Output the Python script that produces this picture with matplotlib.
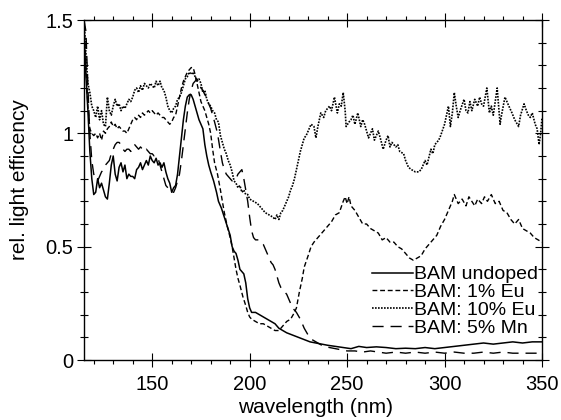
import matplotlib
matplotlib.use("Agg")
import matplotlib.pyplot as plt
from matplotlib.ticker import MultipleLocator, FixedLocator

plt.rcParams['font.family'] = ['Liberation Sans', 'DejaVu Sans']

# ---- data ----
undoped_x = [115, 116, 117, 118, 119, 120, 121, 122, 123, 124, 125, 126, 127, 128, 129, 130,
             131, 132, 133, 134, 135, 136, 137, 138, 139, 140, 141, 142, 143, 144, 145, 146,
             147, 148, 149, 150, 151, 152, 153, 154, 155, 156, 157, 158, 159, 160, 161, 162,
             163, 164, 165, 166, 167, 168, 169, 170, 171, 172, 173, 174, 175, 176, 177, 178,
             179, 180, 181.5, 183, 184, 185.5, 187, 188.5, 190, 191, 192, 193, 194, 195, 196,
             197, 198, 199, 200, 201, 203, 205, 207, 209, 211, 213, 215, 217, 219, 222, 225,
             228, 231, 234, 237, 240, 244, 248, 252, 256, 260, 265, 270, 275, 280, 285, 290,
             295, 300, 305, 310, 315, 320, 325, 330, 335, 340, 345, 350]
undoped_y = [1.45, 1.25, 1.10, 0.92, 0.80, 0.73, 0.74, 0.80, 0.76, 0.78, 0.75, 0.72, 0.71, 0.78,
             0.86, 0.90, 0.82, 0.79, 0.85, 0.87, 0.83, 0.86, 0.80, 0.82, 0.81, 0.81, 0.80, 0.84,
             0.85, 0.87, 0.84, 0.86, 0.88, 0.86, 0.90, 0.88, 0.87, 0.89, 0.86, 0.87, 0.85, 0.87,
             0.83, 0.80, 0.78, 0.74, 0.76, 0.77, 0.82, 0.90, 0.98, 1.06, 1.12, 1.16, 1.17, 1.17,
             1.15, 1.12, 1.09, 1.06, 1.04, 1.02, 0.95, 0.90, 0.86, 0.83, 0.79, 0.74, 0.70, 0.67,
             0.63, 0.59, 0.55, 0.50, 0.48, 0.47, 0.44, 0.40, 0.39, 0.38, 0.34, 0.27, 0.23, 0.21,
             0.21, 0.20, 0.19, 0.18, 0.17, 0.16, 0.14, 0.13, 0.12, 0.11, 0.10, 0.09, 0.08, 0.075,
             0.07, 0.065, 0.06, 0.055, 0.05, 0.06, 0.055, 0.058, 0.055, 0.05, 0.052, 0.05, 0.055,
             0.05, 0.055, 0.06, 0.065, 0.07, 0.075, 0.07, 0.075, 0.08, 0.075, 0.08, 0.08]

eu1_x = [115, 116, 117, 118, 119, 120, 121, 122, 123, 124, 125, 126, 127, 128, 129, 130, 131,
         132, 133, 134, 135, 136, 137, 138, 139, 140, 141, 142, 143, 144, 145, 146, 147, 148,
         149, 150, 151, 152, 153, 154, 155, 156, 157, 158, 159, 160, 161, 162, 163, 164, 165,
         166, 167, 168, 169, 170, 171, 172, 173, 174, 175, 176, 177, 178, 179, 180, 181, 182,
         183.5, 185, 186, 187, 188.5, 190, 191, 192, 193, 194, 195, 196.5, 198, 199, 200, 201,
         203, 205, 207, 209, 211, 213, 215, 217, 219, 221, 223, 224, 225.5, 227, 228, 230,
         231.5, 233, 235, 237, 240, 242, 244, 246, 248, 249, 250, 251, 252, 254, 256, 258, 260,
         262, 264, 266, 268, 270, 272, 274, 276, 278, 280, 282, 284, 286, 288, 290, 292, 294,
         296, 298, 300, 302, 304, 305, 307, 309, 311, 312.5, 314, 315.5, 317, 319, 320.5, 322,
         324, 326, 328, 330, 332, 334, 336, 338, 340, 342, 344, 346, 348, 350]
eu1_y = [1.50, 1.30, 1.12, 1.02, 1.00, 0.99, 1.00, 0.98, 1.00, 0.97, 1.01, 1.00, 1.02, 1.03,
         1.05, 1.03, 1.04, 1.02, 1.03, 1.02, 1.01, 1.01, 1.00, 1.02, 1.04, 1.06, 1.07, 1.06,
         1.08, 1.07, 1.09, 1.08, 1.09, 1.10, 1.09, 1.10, 1.09, 1.08, 1.09, 1.08, 1.07, 1.07,
         1.06, 1.05, 1.04, 1.05, 1.07, 1.08, 1.12, 1.16, 1.20, 1.23, 1.25, 1.27, 1.28, 1.29,
         1.29, 1.26, 1.22, 1.18, 1.14, 1.12, 1.10, 1.07, 1.04, 1.00, 0.93, 0.87, 0.82, 0.75,
         0.70, 0.65, 0.59, 0.54, 0.50, 0.45, 0.40, 0.36, 0.33, 0.28, 0.24, 0.21, 0.19, 0.18,
         0.17, 0.16, 0.16, 0.15, 0.14, 0.13, 0.13, 0.15, 0.17, 0.18, 0.21, 0.23, 0.30, 0.36,
         0.41, 0.46, 0.50, 0.52, 0.54, 0.56, 0.59, 0.61, 0.64, 0.65, 0.70, 0.72, 0.69, 0.72,
         0.68, 0.66, 0.63, 0.60, 0.60, 0.58, 0.57, 0.56, 0.53, 0.54, 0.52, 0.52, 0.50, 0.49,
         0.47, 0.45, 0.44, 0.45, 0.46, 0.49, 0.51, 0.53, 0.55, 0.59, 0.62, 0.66, 0.70, 0.73,
         0.69, 0.71, 0.68, 0.72, 0.70, 0.68, 0.71, 0.69, 0.72, 0.70, 0.73, 0.69, 0.70, 0.66,
         0.65, 0.62, 0.60, 0.62, 0.58, 0.57, 0.56, 0.54, 0.53, 0.52]

eu10_x = [115, 116, 117, 118, 119, 120, 121, 122, 123, 124, 125, 126, 127, 128, 129, 130, 131,
          132, 133, 134, 135, 136, 137, 138, 139, 140, 141, 142, 143, 144, 145, 146, 147, 148,
          149, 150, 151, 152, 153, 154, 155, 156, 157, 158, 159, 160, 161, 162, 163, 164, 165,
          166, 167, 168, 169, 170, 171, 172, 173, 174, 175, 176, 177, 178, 179, 180, 181, 182,
          183, 184, 185, 186, 187, 188, 189, 190, 191, 192, 193, 194, 195, 196, 197, 198, 199,
          200, 202, 204, 206, 208, 210, 212, 213, 214, 215, 216, 217, 218, 219, 220, 221, 222,
          223, 224, 225, 226, 227, 228, 229, 230, 231.5, 233, 234, 235, 236.5, 238, 239, 241,
          242, 243.5, 245, 246, 247, 248, 249, 249.5, 251, 252, 253, 254, 255.5, 257, 258, 259,
          261, 262, 263, 264, 266, 267, 268.5, 270, 271, 272, 273, 275, 276, 277, 279, 280,
          281.5, 283, 285, 286.7, 288, 290, 291, 293, 294, 295, 297, 298, 300, 301, 302, 303,
          304, 305, 306, 307, 308, 310, 311, 312, 313, 314, 315.5, 317, 318, 319, 320, 321.7,
          323, 324, 325, 327, 328.5, 329, 331, 332, 333, 334.6, 336, 338, 339, 340.8, 342, 343,
          344, 345, 346.5, 347.5, 348.5, 349.3, 350]
eu10_y = [1.50, 1.35, 1.22, 1.18, 1.12, 1.10, 1.07, 1.12, 1.06, 1.10, 1.04, 1.03, 1.16, 1.10,
          1.08, 1.12, 1.15, 1.12, 1.13, 1.10, 1.12, 1.11, 1.13, 1.15, 1.14, 1.16, 1.19, 1.20,
          1.18, 1.21, 1.19, 1.22, 1.21, 1.20, 1.22, 1.21, 1.20, 1.23, 1.21, 1.23, 1.20, 1.19,
          1.16, 1.12, 1.10, 1.09, 1.11, 1.12, 1.15, 1.16, 1.18, 1.21, 1.24, 1.25, 1.27, 1.26,
          1.27, 1.25, 1.23, 1.24, 1.22, 1.18, 1.19, 1.15, 1.13, 1.12, 1.10, 1.09, 1.06, 1.05,
          0.99, 0.96, 0.93, 0.91, 0.88, 0.86, 0.83, 0.79, 0.78, 0.76, 0.77, 0.74, 0.75, 0.73,
          0.73, 0.71, 0.70, 0.69, 0.67, 0.65, 0.64, 0.63, 0.62, 0.64, 0.62, 0.65, 0.66, 0.68,
          0.70, 0.72, 0.75, 0.77, 0.80, 0.84, 0.88, 0.92, 0.95, 0.98, 0.99, 1.01, 1.04, 1.03,
          0.98, 1.03, 1.09, 1.07, 1.10, 1.12, 1.10, 1.16, 1.09, 1.13, 1.12, 1.18, 1.10, 1.03,
          1.05, 1.06, 1.08, 1.04, 1.09, 1.03, 1.06, 1.04, 0.98, 1.00, 1.02, 0.97, 1.01, 0.98,
          0.93, 0.97, 0.99, 0.94, 0.96, 0.94, 0.95, 0.92, 0.91, 0.88, 0.85, 0.84, 0.83, 0.83,
          0.84, 0.88, 0.86, 0.93, 0.91, 0.95, 0.97, 0.99, 1.04, 1.08, 1.12, 1.03, 1.09, 1.18,
          1.12, 1.07, 1.10, 1.15, 1.10, 1.09, 1.14, 1.10, 1.15, 1.12, 1.16, 1.13, 1.12, 1.20,
          1.09, 1.12, 1.08, 1.20, 1.04, 1.07, 1.16, 1.14, 1.12, 1.09, 1.06, 1.03, 1.08, 1.13,
          1.10, 1.08, 1.07, 1.09, 1.04, 1.02, 0.95, 1.00, 1.07]

mn5_x = [115, 116, 117, 118, 119, 120, 121, 122, 123, 124, 125, 126, 127, 128, 129, 130, 131,
         132, 133, 134, 135, 136, 137, 138, 139, 140, 141, 142, 143, 144, 145, 146, 147, 148,
         149, 150, 151, 152, 153, 154, 155, 156, 157, 158, 159, 160, 161, 162, 163, 164, 165,
         166, 167, 168, 169, 170, 171, 172, 173, 174, 175, 176, 177, 178, 179, 180, 181, 182,
         183.5, 185, 186, 187, 188, 189, 190, 191, 192, 193, 194, 195, 196, 197, 198, 199, 200,
         201, 202, 203, 204, 205, 206, 207, 208, 209, 210, 211, 212, 213, 214, 215, 216, 217,
         218, 219, 220, 221, 222, 224, 226, 228, 230, 232, 234, 236, 238, 241, 244, 247, 250,
         254, 258, 262, 266, 270, 275, 280, 285, 290, 295, 300, 305, 310, 315, 320, 325, 330,
         335, 340, 345, 350]
mn5_y = [1.50, 1.45, 1.20, 1.00, 0.88, 0.82, 0.80, 0.79, 0.81, 0.83, 0.84, 0.86, 0.87, 0.88,
         0.91, 0.93, 0.95, 0.96, 0.96, 0.95, 0.93, 0.92, 0.93, 0.93, 0.92, 0.93, 0.95, 0.94,
         0.93, 0.94, 0.93, 0.92, 0.93, 0.92, 0.91, 0.91, 0.90, 0.90, 0.89, 0.86, 0.83, 0.80,
         0.77, 0.76, 0.75, 0.74, 0.74, 0.76, 0.79, 0.82, 0.88, 0.95, 1.02, 1.09, 1.15, 1.19,
         1.22, 1.23, 1.24, 1.22, 1.20, 1.19, 1.17, 1.16, 1.13, 1.11, 1.08, 1.05, 1.00, 0.92,
         0.87, 0.84, 0.82, 0.81, 0.80, 0.79, 0.79, 0.80, 0.82, 0.83, 0.84, 0.80, 0.75, 0.70,
         0.63, 0.57, 0.54, 0.53, 0.53, 0.53, 0.52, 0.51, 0.49, 0.47, 0.45, 0.43, 0.42, 0.40,
         0.37, 0.34, 0.32, 0.31, 0.30, 0.29, 0.27, 0.25, 0.23, 0.21, 0.18, 0.14, 0.11, 0.09,
         0.08, 0.07, 0.06, 0.055, 0.05, 0.045, 0.04, 0.04, 0.035, 0.04, 0.035, 0.03, 0.035,
         0.03, 0.035, 0.03, 0.035, 0.03, 0.035, 0.03, 0.03, 0.035, 0.03, 0.035, 0.03, 0.03,
         0.03, 0.03]

labels = ["BAM undoped", "BAM: 1% Eu", "BAM: 10% Eu", "BAM: 5% Mn"]
x_ticks = [150, 200, 250, 300, 350]
y_ticks = [0, 0.5, 1, 1.5]
y_tick_labels = ["0", "0.5", "1", "1.5"]

# ---- figure ----
fig = plt.figure(figsize=(5.61, 4.20), dpi=100)
ax = fig.add_axes([84 / 561, 1 - 360 / 420, (542 - 84) / 561, (360 - 20) / 420])

ax.plot(undoped_x, undoped_y, color='black', lw=1.1, linestyle='-', label=labels[0])
ax.plot(eu1_x, eu1_y, color='black', lw=1.0, linestyle=(0, (3.5, 2.0)), label=labels[1])
ax.plot(eu10_x, eu10_y, color='black', lw=1.2, linestyle=(0, (1.0, 0.8)), label=labels[2])
ax.plot(mn5_x, mn5_y, color='black', lw=1.0, linestyle=(0, (8, 5)), label=labels[3])

ax.set_xlim(115, 350)
ax.set_ylim(0, 1.5)
ax.xaxis.set_major_locator(FixedLocator(x_ticks))
ax.xaxis.set_minor_locator(MultipleLocator(10))
ax.yaxis.set_major_locator(FixedLocator(y_ticks))
ax.set_yticklabels(y_tick_labels)
ax.yaxis.set_minor_locator(MultipleLocator(0.1))

fs_tick = 14.5
fs_label = 15
ax.tick_params(which='major', direction='inout', length=9.5, width=0.8,
               top=True, right=True, labelsize=fs_tick)
ax.tick_params(axis='x', which='major', pad=6)
ax.tick_params(axis='y', which='major', pad=3)
ax.tick_params(axis='y', which='minor', direction='inout', length=5.5, width=0.8,
               left=True, right=True)
ax.tick_params(axis='x', which='minor', direction='out', length=3, width=0.8,
               bottom=True, top=True)
for s in ax.spines.values():
    s.set_linewidth(1.0)

ax.set_xlabel("wavelength (nm)", fontsize=fs_label)
ax.set_ylabel("rel. light efficency", fontsize=fs_label)
ax.xaxis.set_label_coords(0.505, -0.112)
ax.yaxis.set_label_coords(-0.12, 0.53)

leg = ax.legend(loc='lower right', bbox_to_anchor=(1.0, 0.056), frameon=False,
                fontsize=14, handlelength=2.1, handletextpad=0.05, labelspacing=0.015,
                borderaxespad=0.2, borderpad=0.0)

fig.savefig("out.png", dpi=100)
